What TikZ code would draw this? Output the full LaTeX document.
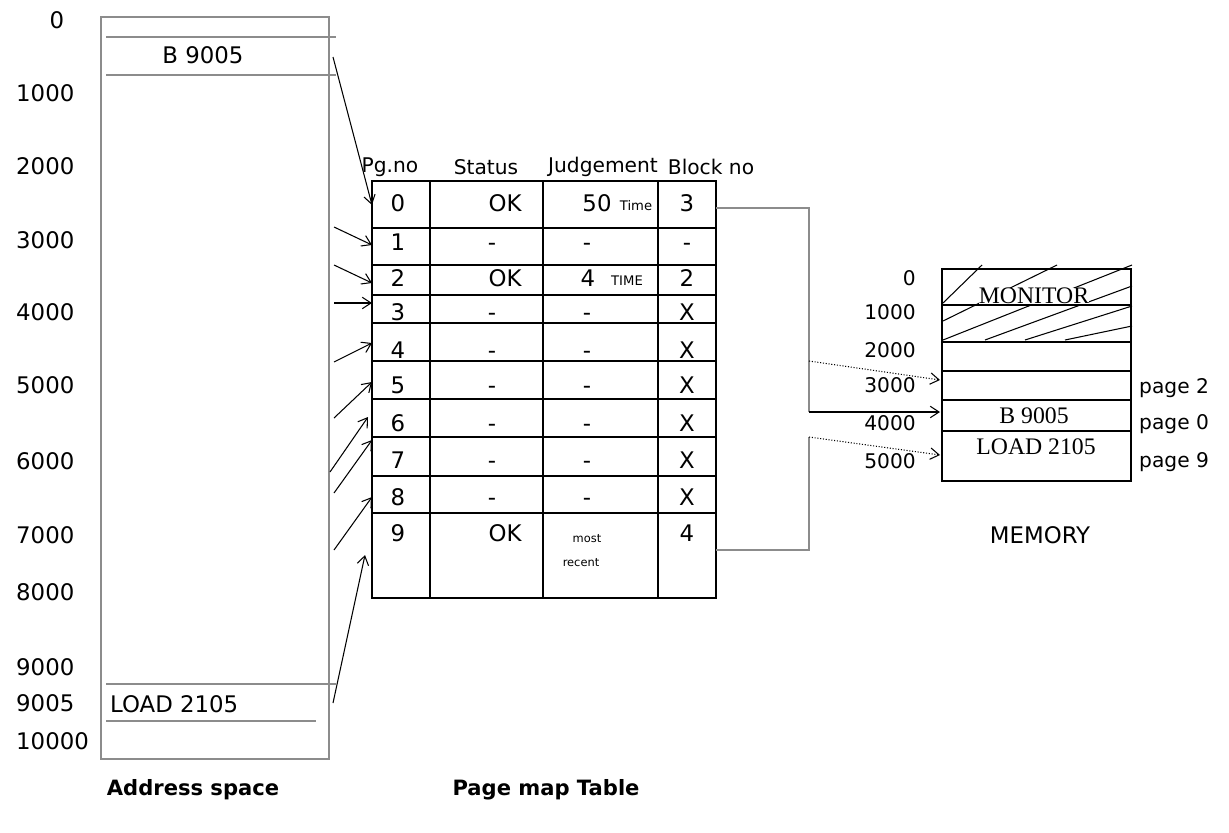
\documentclass[tikz,border=0pt]{standalone}
\usepackage{fontspec}
\setmainfont{DejaVu Sans}
\newfontfamily\memfont{Liberation Serif}
\usepackage{xcolor}
\usepackage{tikz}
\usetikzlibrary{arrows.meta}
\definecolor{boxgray}{gray}{0.55}

\begin{document}
\begin{tikzpicture}[x=0.02cm,y=-0.02cm,
    lbl/.style={font=\fontsize{13}{15}\selectfont},
    cell/.style={font=\fontsize{13}{15}\selectfont,text height=9.5pt,text depth=0pt},
    head/.style={font=\fontsize{11.5}{13}\selectfont},
    small/.style={font=\fontsize{7.5}{9}\selectfont},
    tiny/.style={font=\fontsize{6.5}{8}\selectfont},
    memlbl/.style={font=\fontsize{11.5}{13}\selectfont},
    memtxt/.style={font=\memfont\fontsize{13.5}{15}\selectfont},
    ptr/.style={-{Straight Barb[length=5pt,width=6.5pt]},line width=0.6pt}]
    \useasboundingbox (0,0) rectangle (1229,832);

    % address space
    \draw [boxgray,line width=0.8pt] (101,17) rectangle (329,759);
    \draw [boxgray,line width=0.6pt] (106,37) -- (336,37) (106,75) -- (336,75)
        (106,684) -- (336,684) (106,721) -- (316,721);
    \node [lbl] (b9005) at (203,55) {B 9005};
    \node [lbl,anchor=west] (load2105) at (104,704) {LOAD 2105};
    \node [lbl] (lab0) at (57,20) {0};
    \foreach \n/\y in {1000/93,2000/166,3000/240,4000/312,5000/385,6000/461,
        7000/535,8000/592,9000/667,9005/703,10000/741}
        \node [lbl,anchor=west] (lab\n) at (10,\y) {\n};

    % page map table
    \draw [line width=1pt] (372,181) rectangle (716,598);
    \foreach \x in {430,543,658} \draw [line width=1pt] (\x,181) -- (\x,598);
    \foreach \y in {228,265,295,323,361,399,437,476,513}
        \draw [line width=1pt] (372,\y) -- (716,\y);
    \node [head] (hpg) at (390,167) {Pg.no};
    \node [head] (hst) at (486,167) {Status};
    \node [head] (hju) at (603,167) {Judgement};
    \node [head] (hbl) at (711,167) {Block no};

    \foreach \r/\y/\b in {1/242/-,3/312/X,4/350/X,5/385/X,6/423/X,7/460/X,8/497/X} {
        \node [cell] (pg\r) at (398,\y) {\r};
        \node [cell] (st\r) at (492,\y) {-};
        \node [cell] (ju\r) at (587,\y) {-};
        \node [cell] (bl\r) at (687,\y) {\b};
    }
    \foreach \r/\y/\b in {0/203/3,2/278/2,9/533/4} {
        \node [cell] (pg\r) at (398,\y) {\r};
        \node [cell] (st\r) at (505,\y) {OK};
        \node [cell] (bl\r) at (687,\y) {\b};
    }
    \node [cell] (ju0) at (597,203) {50};
    \node [small] (ju0t) at (636,206) {Time};
    \node [cell] (ju2) at (588,278) {4};
    \node [small] (ju2t) at (627,281) {TIME};
    \node [tiny] (ju9a) at (587,539) {most};
    \node [tiny] (ju9b) at (581,563) {recent};

    % pointers into the table
    \foreach \i/\xa/\ya/\xb/\yb in {0/333/57/372/205,1/334/227/372/245,2/334/265/372/283,
        3/334/303/372/303,4/334/362/372/343,5/334/418/372/382,6/330/472/368/417,
        7/334/493/372/440,8/334/550/372/497,9/333/703/365/555} {
        \coordinate (src\i) at (\xa,\ya);
        \coordinate (row\i) at (\xb,\yb);
        \draw [ptr] (src\i) -- (row\i);
    }

    % memory
    \draw [line width=0.9pt] (942,269) rectangle (1131,481);
    \foreach \y in {305,342,371,400,431} \draw [line width=0.9pt] (942,\y) -- (1131,\y);
    \draw [line width=0.6pt] (943,303) -- (982,265) (943,321) -- (1057,265)
        (943,340) -- (1132,265) (985,340) -- (1132,286) (1025,340) -- (1132,306)
        (1065,340) -- (1132,326);
    \node [memtxt,fill=white,inner sep=0pt] (monitor) at (1034,296) {MONITOR};
    \node [memtxt] (mb9005) at (1034,416) {B 9005};
    \node [memtxt] (mload) at (1036,447) {LOAD 2105};
    \foreach \n/\y in {0/278,1000/312,2000/350,3000/385,4000/423,5000/461}
        \node [memlbl,anchor=east] (mem\n) at (922,\y) {\n};
    \node [memlbl,anchor=west] (pg2) at (1133,388) {page 2};
    \node [memlbl,anchor=west] (pg0) at (1133,424) {page 0};
    \node [memlbl,anchor=west] (pg9) at (1133,462) {page 9};
    \node [font=\fontsize{13}{15}\selectfont] (memory) at (1040,535) {MEMORY};

    % block numbers to frames
    \coordinate (blk0) at (716,208);
    \coordinate (blk9) at (716,550);
    \coordinate (bus0) at (809,208);
    \coordinate (bus1) at (809,361);
    \coordinate (bus2) at (809,412);
    \coordinate (bus3) at (809,437);
    \coordinate (bus4) at (809,550);
    \coordinate (fr2) at (940,380);
    \coordinate (fr0) at (940,412);
    \coordinate (fr9) at (940,455);
    \draw [line width=0.6pt,boxgray] (blk0) -- (bus0) -- (bus2);
    \draw [line width=0.6pt,boxgray] (bus3) -- (bus4) -- (blk9);
    \draw [ptr] (bus2) -- (fr0);
    \draw [ptr,densely dotted] (bus1) -- (fr2);
    \draw [ptr,densely dotted] (bus3) -- (fr9);

    % captions
    \node [font=\bfseries\fontsize{12}{14}\selectfont] (cas) at (193,790) {Address space};
    \node [font=\bfseries\fontsize{12}{14}\selectfont] (cpmt) at (546,790) {Page map Table};
\end{tikzpicture}
\end{document}
